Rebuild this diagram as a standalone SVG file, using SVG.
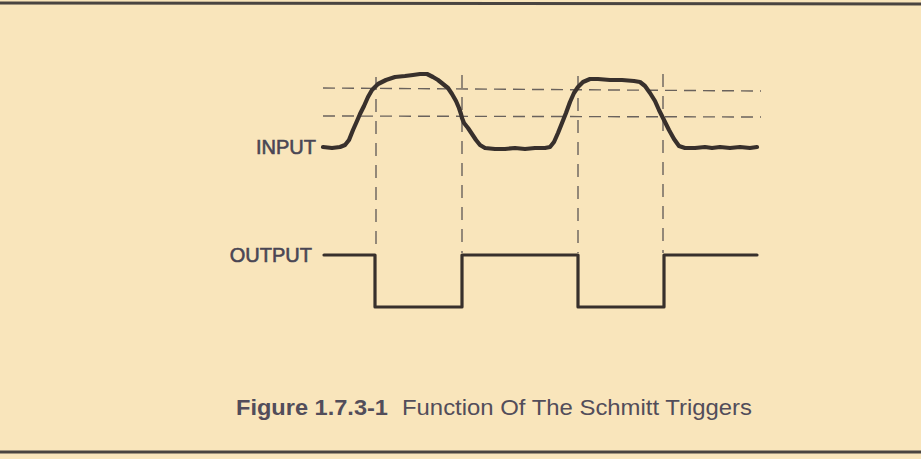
<svg xmlns="http://www.w3.org/2000/svg" width="921" height="459" viewBox="0 0 921 459">
<style>
.bg{fill:#f9e5bb}
.rule{stroke:#4a4440;stroke-width:3;fill:none}
.guide{stroke:#6a625c;stroke-width:1.4;fill:none;stroke-dasharray:12 7}
.vguide{stroke:#6a625c;stroke-width:1.4;fill:none;stroke-dasharray:13 9}
.sig{stroke:#38302c;fill:none;stroke-linejoin:round;stroke-linecap:round}
.lbl{font-family:"Liberation Sans",Arial,sans-serif;font-size:20px;fill:#4a4654;stroke:#4a4654;stroke-width:0.6}
.cap{font-family:"Liberation Sans",Arial,sans-serif;font-size:22px;fill:#524d5a}
</style>
<rect class="bg" x="0" y="0" width="921" height="459"/>
<line class="rule" x1="0" y1="3" x2="921" y2="4"/>
<line class="rule" x1="0" y1="452" x2="921" y2="452"/>
<g id="guides">
<line class="guide" x1="323" y1="88" x2="761" y2="91"/>
<line class="guide" x1="323" y1="116" x2="761" y2="117"/>
<line class="vguide" x1="376" y1="77" x2="376" y2="253"/>
<line class="vguide" x1="462" y1="75" x2="462" y2="253"/>
<line class="vguide" x1="578" y1="76" x2="578" y2="253"/>
<line class="vguide" x1="663" y1="74" x2="663" y2="253"/>
</g>
<g id="input">
<text class="lbl" x="316" y="154" text-anchor="end">INPUT</text>
<path class="sig" stroke-width="4.2" d="M323,147 L332,148 L340,147 L345,145 L349,140 L353,130 L357,121 L360,114 L364,106 L368,97 L372,90 L378,84 L386,80 L395,77 L405,76 L413,75 L420,74 L427,74 L433,77 L438,80 L443,84 L448,88 L452,94 L456,101 L459,108 L461,114 L462,118 L464,123 L468,128 L472,134 L476,140 L480,145 L485,148 L495,149 L505,149 L515,148 L525,149 L535,148 L545,148 L550,147 L554,142 L558,133 L562,123 L566,113 L570,102 L574,93 L578,87 L583,82 L590,79 L598,79 L610,80 L622,80 L634,81 L640,82 L645,86 L650,93 L655,101 L659,110 L664,120 L669,130 L674,139 L679,146 L685,148 L695,148 L705,147 L712,148 L720,147 L730,148 L740,147 L750,148 L757,147"/>
</g>
<g id="output">
<text class="lbl" x="312" y="262" text-anchor="end">OUTPUT</text>
<path class="sig" stroke-width="3.2" stroke-linejoin="miter" d="M324,255 L375,255 L375,307 L462,307 L462,255 L578,255 L578,307 L664,307 L664,255 L757,255"/>
</g>
<g id="caption">
<text class="cap" y="415"><tspan x="236" font-weight="bold" textLength="152" lengthAdjust="spacingAndGlyphs">Figure 1.7.3-1</tspan><tspan x="402" textLength="350" lengthAdjust="spacingAndGlyphs">Function Of The Schmitt Triggers</tspan></text>
</g>
</svg>
